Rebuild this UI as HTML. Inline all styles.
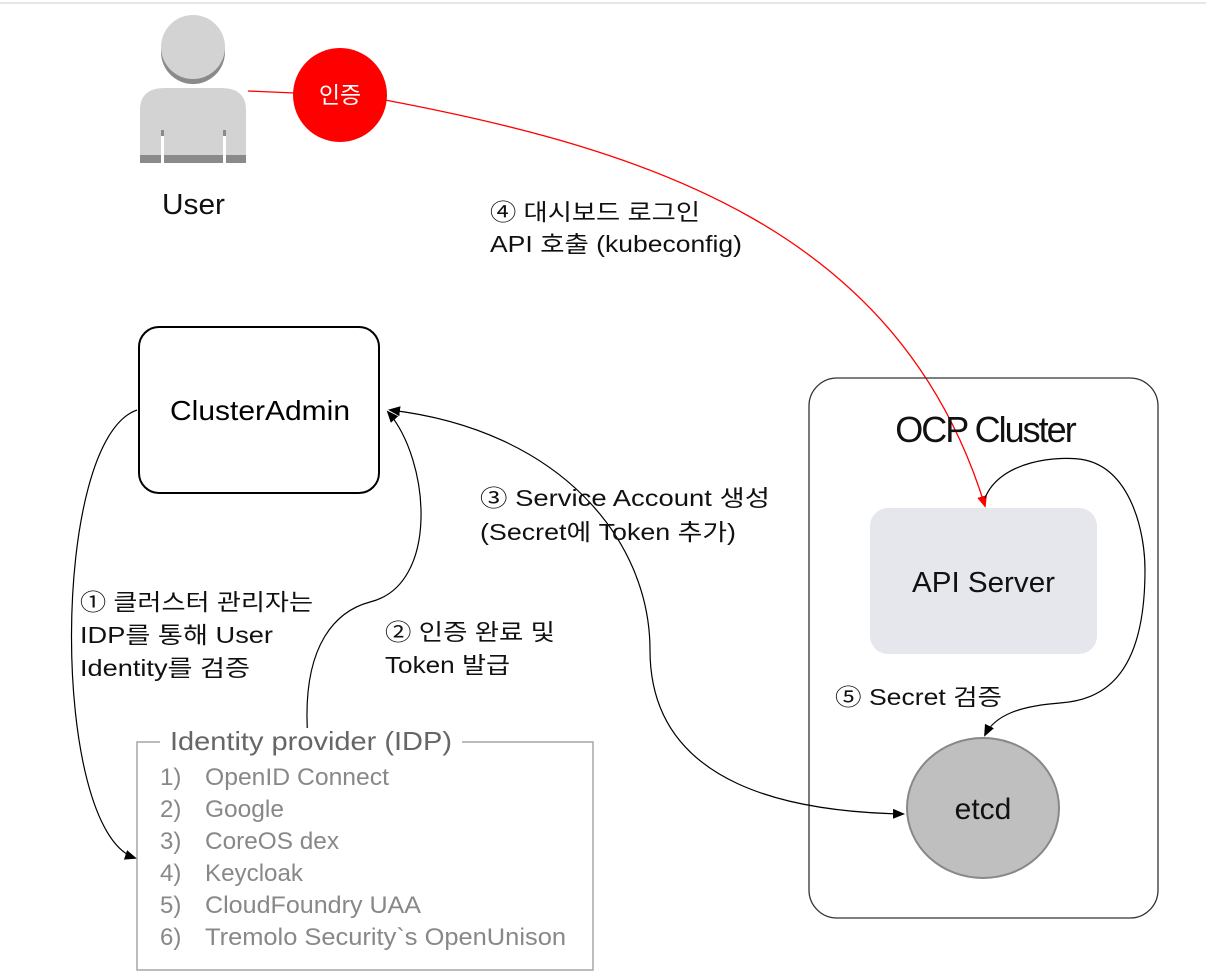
<!DOCTYPE html>
<html><head><meta charset="utf-8"><style>
body{margin:0;background:#fff}
svg{display:block}
text{font-family:"Liberation Sans","Noto Sans CJK KR",sans-serif}
</style></head><body>
<svg width="1206" height="976" viewBox="0 0 1206 976" xmlns="http://www.w3.org/2000/svg">
<defs>
<marker id="ab" markerWidth="12" markerHeight="12" refX="10" refY="5" orient="auto" markerUnits="userSpaceOnUse"><path d="M0,0 L12,5 L0,10 z" fill="#000"/></marker>
<marker id="abs" markerWidth="12" markerHeight="12" refX="2" refY="5" orient="auto" markerUnits="userSpaceOnUse"><path d="M12,0 L0,5 L12,10 z" fill="#000"/></marker>
<marker id="ar" markerWidth="12" markerHeight="12" refX="10" refY="5" orient="auto" markerUnits="userSpaceOnUse"><path d="M0,0 L12,5 L0,10 z" fill="#f00"/></marker>
</defs>
<line x1="0" y1="3" x2="1206" y2="3" stroke="#e6e6e6" stroke-width="2"/>
<circle cx="193" cy="52" r="32" fill="#8a8a8a"/>
<circle cx="193" cy="47" r="32" fill="#d3d3d3"/>
<path d="M140,163 L140,110 Q140,88 165,88 L221,88 Q246,88 246,110 L246,163 Z" fill="#d3d3d3"/>
<rect x="140" y="155" width="106" height="8" fill="#8a8a8a"/>
<rect x="161" y="130" width="3" height="33" fill="#fff"/>
<rect x="223" y="130" width="3" height="33" fill="#fff"/>
<rect x="161" y="130" width="3" height="6" fill="#8a8a8a"/>
<rect x="223" y="130" width="3" height="6" fill="#8a8a8a"/>
<text x="162" y="214" font-size="29" textLength="63" lengthAdjust="spacingAndGlyphs" fill="#111">User</text>
<line x1="248" y1="91" x2="295" y2="93" stroke="#f00" stroke-width="1.3"/>
<path d="M385,100 C650,150 900,230 985,506" fill="none" stroke="#f00" stroke-width="1.3" marker-end="url(#ar)"/>
<circle cx="340" cy="95" r="47" fill="#f00"/>
<text x="340" y="103" font-size="23" text-anchor="middle" fill="#fff">인증</text>
<text x="490" y="220" font-size="23" textLength="210" lengthAdjust="spacingAndGlyphs" fill="#111">④ 대시보드 로그인</text>
<text x="490" y="252" font-size="23" textLength="252" lengthAdjust="spacingAndGlyphs" fill="#111">API 호출 (kubeconfig)</text>
<rect x="139" y="327" width="240" height="166" rx="20" fill="#fff" stroke="#000" stroke-width="2"/>
<text x="170" y="420" font-size="28" textLength="180" lengthAdjust="spacingAndGlyphs" fill="#000">ClusterAdmin</text>
<rect x="809" y="378" width="349" height="540" rx="28" fill="none" stroke="#333" stroke-width="1.3"/>
<text x="985" y="442" font-size="36" text-anchor="middle" fill="#111" letter-spacing="-2">OCP Cluster</text>
<rect x="870" y="508" width="227" height="146" rx="18" fill="#e5e7ec"/>
<text x="912" y="592" font-size="29" textLength="143" lengthAdjust="spacingAndGlyphs" fill="#111">API Server</text>
<path d="M985,498 C1000,460 1060,455 1085,460 C1130,470 1145,530 1145,570 C1145,680 1100,700 1060,703 C1020,706 995,715 985,735" fill="none" stroke="#000" stroke-width="1.2" marker-end="url(#ab)"/>
<text x="835" y="705" font-size="23" textLength="167" lengthAdjust="spacingAndGlyphs" fill="#111">⑤ Secret 검증</text>
<ellipse cx="983" cy="808" rx="76" ry="70" fill="#bfbfbf" stroke="#888" stroke-width="2"/>
<text x="983" y="819" font-size="30" text-anchor="middle" fill="#111">etcd</text>
<path d="M390,410 C560,430 650,540 650,650 C650,790 800,812 903,814" fill="none" stroke="#000" stroke-width="1.2" marker-start="url(#abs)" marker-end="url(#ab)"/>
<path d="M137,410 C50,440 50,830 135,858" fill="none" stroke="#000" stroke-width="1.2" marker-end="url(#ab)"/>
<path d="M308,740 C300,640 340,610 370,602 C440,585 430,460 388,412" fill="none" stroke="#000" stroke-width="1.2" marker-end="url(#ab)"/>
<text x="480" y="506" font-size="23" textLength="290" lengthAdjust="spacingAndGlyphs" fill="#111">③ Service Account 생성</text>
<text x="480" y="540" font-size="23" textLength="256" lengthAdjust="spacingAndGlyphs" fill="#111">(Secret에 Token 추가)</text>
<text x="80" y="610" font-size="23" textLength="233" lengthAdjust="spacingAndGlyphs" fill="#111">① 클러스터 관리자는</text>
<text x="80" y="643" font-size="23" textLength="193" lengthAdjust="spacingAndGlyphs" fill="#111">IDP를 통해 User</text>
<text x="80" y="676" font-size="23" textLength="170" lengthAdjust="spacingAndGlyphs" fill="#111">Identity를 검증</text>
<text x="385" y="640" font-size="23" textLength="170" lengthAdjust="spacingAndGlyphs" fill="#111">② 인증 완료 및</text>
<text x="385" y="673" font-size="23" textLength="125" lengthAdjust="spacingAndGlyphs" fill="#111">Token 발급</text>
<rect x="137" y="742" width="456" height="228" fill="#fff" stroke="#999" stroke-width="1.3"/>
<rect x="160" y="728" width="302" height="28" fill="#fff"/>
<text x="170" y="750" font-size="26" textLength="282" lengthAdjust="spacingAndGlyphs" fill="#666">Identity provider (IDP)</text>
<g font-size="24" fill="#888">
<text x="160" y="785">1)</text><text x="205" y="785" textLength="184" lengthAdjust="spacingAndGlyphs">OpenID Connect</text>
<text x="160" y="817">2)</text><text x="205" y="817" textLength="79" lengthAdjust="spacingAndGlyphs">Google</text>
<text x="160" y="849">3)</text><text x="205" y="849" textLength="134" lengthAdjust="spacingAndGlyphs">CoreOS dex</text>
<text x="160" y="881">4)</text><text x="205" y="881" textLength="98" lengthAdjust="spacingAndGlyphs">Keycloak</text>
<text x="160" y="913">5)</text><text x="205" y="913" textLength="216" lengthAdjust="spacingAndGlyphs">CloudFoundry UAA</text>
<text x="160" y="945">6)</text><text x="205" y="945" textLength="361" lengthAdjust="spacingAndGlyphs">Tremolo Security`s OpenUnison</text>
</g>
</svg>
</body></html>
